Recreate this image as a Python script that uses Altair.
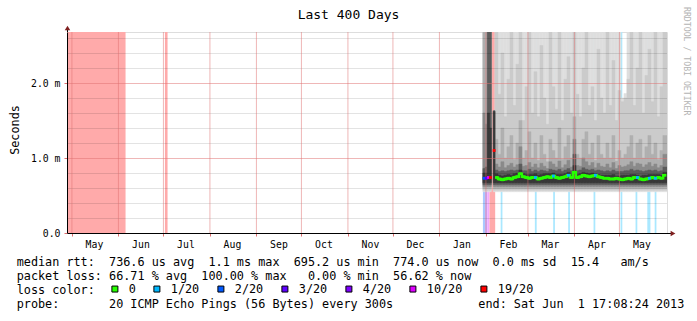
import altair as alt
import pandas as pd

MONO = "DejaVu Sans Mono"

# ---------------- frame ----------------
START_ISO = "2012-04-27T17:08:24Z"
END_ISO = "2013-06-01T17:08:24Z"
START = alt.DateTime(year=2012, month=4, date=27, hours=17, minutes=8, seconds=24, utc=True)
END = alt.DateTime(year=2013, month=6, date=1, hours=17, minutes=8, seconds=24, utc=True)
YMAX = 2.68  # ms
MONTH_STARTS = ["2012-05-01", "2012-06-01", "2012-07-01", "2012-08-01", "2012-09-01",
                "2012-10-01", "2012-11-01", "2012-12-01", "2013-01-01", "2013-02-01",
                "2013-03-01", "2013-04-01", "2013-05-01"]
Y_LABELS = [0, 1, 2]
Y_MAJOR = [1.0, 2.0]
Y_MINOR = [0.2, 0.4, 0.6, 0.8, 1.2, 1.4, 1.6, 1.8, 2.2, 2.4, 2.6]

# ---------------- loss colours ----------------
LOSS_CATS = ["0", "1/20", "2/20", "3/20", "4/20", "10/20", "19/20"]
LOSS_COLORS = ["#26ff00", "#00b8ff", "#0059ff", "#5e00ff", "#7e00ff", "#dd00ff", "#ff0000"]
LOSS_TINTS = ["#b2ffaa", "#aae8ff", "#aac8ff", "#c9aaff", "#d4aaff", "#f4aaff", "#ffaaaa"]

# ---------------- loss background bars ----------------
LOSS_START = ["2012-04-27T17:08:24Z", "2012-07-02T00:00:00Z", "2013-01-30T00:00:00Z",
              "2013-01-31T12:00:00Z", "2013-02-01T22:00:00Z", "2013-02-03T10:00:00Z",
              "2013-02-10T20:00:00Z", "2013-03-05T15:00:00Z", "2013-03-17T20:00:00Z",
              "2013-03-27T20:00:00Z", "2013-04-13T18:00:00Z", "2013-05-01T18:00:00Z",
              "2013-05-11T18:00:00Z", "2013-05-19T14:00:00Z", "2013-05-24T12:00:00Z"]
LOSS_END = ["2012-06-05T18:00:00Z", "2012-07-03T18:00:00Z", "2013-01-31T12:00:00Z",
            "2013-02-01T22:00:00Z", "2013-02-03T10:00:00Z", "2013-02-07T04:00:00Z",
            "2013-02-12T00:00:00Z", "2013-03-06T20:00:00Z", "2013-03-19T00:00:00Z",
            "2013-03-29T00:00:00Z", "2013-04-14T22:00:00Z", "2013-05-02T22:00:00Z",
            "2013-05-12T22:00:00Z", "2013-05-21T16:00:00Z", "2013-05-25T16:00:00Z"]
LOSS_CAT = ["19/20", "19/20", "2/20", "3/20", "10/20", "19/20",
            "1/20", "1/20", "1/20", "1/20", "1/20", "1/20", "1/20", "1/20", "1/20"]

# ---------------- smoke columns ----------------
SPECIAL_STARTS = ["2013-01-30T00:00:00Z", "2013-01-31T12:00:00Z", "2013-02-01T22:00:00Z",
                  "2013-02-03T10:00:00Z", "2013-02-04T14:00:00Z", "2013-02-05T22:00:00Z"]
REG_STARTS = [d.strftime("%Y-%m-%dT%H:%M:%SZ")
              for d in pd.date_range("2013-02-07", periods=57, freq="2D")]

S_T0 = [2.68, 2.68, 2.68, 2.68, None, 1.63]
S_T1 = [2.68, 2.68, 2.68, 2.68, None, 1.63]
S_T2 = [2.68, 2.68, 2.68, 2.68, None, 1.63]
S_T3 = [1.60, 1.45, 2.68, 2.68, None, 1.63]
S_T4 = [0.86, 0.88, 2.68, 2.68, None, 1.63]
S_T5 = [0.80, 0.80, 1.60, 1.40, None, 1.62]
S_MED = [0.73, 0.73, 0.74, 0.74, None, 1.10]
S_LOSS = ["2/20", "3/20", "10/20", "19/20", None, "19/20"]

T0 = [2.68] * 42 + [1.80, 1.86] + [2.68] * 13
T1 = [2.68, 1.85, 2.40, 1.55, 2.05, 2.68, 1.70, 2.25, 2.68, 1.50,
      1.95, 2.68, 1.60, 2.15, 1.55, 2.50, 1.80, 1.45, 2.68, 1.95,
      1.65, 2.68, 1.50, 2.05, 2.35, 1.60, 2.68, 1.85, 1.55, 2.20,
      2.68, 1.70, 1.95, 1.50, 2.45, 1.80, 1.60, 2.68, 1.70, 2.30,
      1.50, 1.90, 1.75, 1.80, 2.05, 2.68, 1.70, 2.20, 2.68, 1.60,
      2.10, 2.45, 1.75, 2.68, 1.55, 1.95, 2.68]
T2 = [1.25, 1.05, 1.40, 1.00, 1.15, 1.30, 0.98, 1.20, 1.50, 1.00,
      1.10, 1.35, 1.00, 1.20, 0.97, 1.30, 1.05, 0.95, 1.25, 1.10,
      1.00, 1.40, 0.98, 1.15, 1.30, 1.00, 1.55, 1.05, 1.00, 1.25,
      1.35, 1.05, 1.20, 0.97, 1.30, 1.05, 1.00, 1.20, 1.00, 1.30,
      0.96, 1.10, 1.00, 1.05, 1.15, 1.30, 1.00, 1.20, 1.25, 1.00,
      1.15, 1.30, 1.05, 1.20, 0.98, 1.10, 1.30]
T3 = [0.92, 0.88, 0.95, 0.87, 0.90, 0.93, 0.88, 0.91, 1.15, 0.89,
      0.90, 0.94, 0.88, 0.92, 0.87, 0.93, 0.89, 0.86, 0.95, 0.92,
      0.88, 0.96, 0.87, 0.91, 0.97, 0.88, 1.25, 0.90, 0.89, 1.00,
      0.95, 0.90, 0.94, 0.87, 0.93, 0.89, 0.88, 0.92, 0.87, 0.94,
      0.86, 0.90, 0.88, 0.89, 0.91, 0.95, 0.89, 0.93, 0.92, 0.88,
      0.91, 0.94, 0.89, 0.92, 0.87, 0.90, 1.05]
T4 = [0.84, 0.82, 0.83, 0.82, 0.83, 0.84, 0.83, 0.84, 0.92, 0.83,
      0.83, 0.85, 0.82, 0.84, 0.82, 0.84, 0.83, 0.82, 0.85, 0.84,
      0.83, 0.85, 0.82, 0.84, 0.86, 0.83, 1.05, 0.83, 0.84, 0.87,
      0.85, 0.84, 0.85, 0.83, 0.84, 0.83, 0.82, 0.83, 0.82, 0.84,
      0.82, 0.82, 0.82, 0.83, 0.83, 0.85, 0.83, 0.84, 0.83, 0.82,
      0.83, 0.84, 0.83, 0.84, 0.82, 0.83, 0.88]
T5 = [0.79, 0.77, 0.76, 0.77, 0.78, 0.77, 0.79, 0.80, 0.84, 0.79,
      0.78, 0.78, 0.78, 0.79, 0.77, 0.78, 0.79, 0.79, 0.79, 0.80,
      0.78, 0.78, 0.78, 0.79, 0.81, 0.78, 0.90, 0.78, 0.79, 0.81,
      0.80, 0.79, 0.80, 0.79, 0.78, 0.77, 0.77, 0.77, 0.77, 0.78,
      0.76, 0.76, 0.77, 0.77, 0.77, 0.78, 0.78, 0.77, 0.76, 0.77,
      0.77, 0.78, 0.78, 0.78, 0.78, 0.77, 0.81]
MED = [0.74, 0.72, 0.71, 0.72, 0.73, 0.72, 0.74, 0.75, 0.79, 0.75,
       0.74, 0.73, 0.74, 0.74, 0.72, 0.73, 0.74, 0.75, 0.74, 0.76,
       0.74, 0.73, 0.74, 0.75, 0.77, 0.74, 0.81, 0.74, 0.75, 0.77,
       0.76, 0.75, 0.76, 0.77, 0.75, 0.74, 0.73, 0.73, 0.72, 0.72,
       0.73, 0.72, 0.71, 0.72, 0.73, 0.72, 0.74, 0.74, 0.72, 0.71,
       0.72, 0.73, 0.74, 0.73, 0.74, 0.73, 0.77]
LOSS = ["0"] * 57
for j in [13, 19, 24, 33, 47, 51, 53]:
    LOSS[j] = "1/20"

BAND_LOW = [0.55, 0.57, 0.595, 0.62, 0.645, 0.67]
BAND_GRAY = ["#dedede", "#cbcbcb", "#b0b0b0", "#8a8a8a", "#5c5c5c", "#383838"]

for arr in (T0, T1, T2, T3, T4, T5, MED, LOSS):
    assert len(arr) == 57

starts = SPECIAL_STARTS + REG_STARTS
ends = starts[1:] + [END_ISO]
tops = [S_T0 + T0, S_T1 + T1, S_T2 + T2, S_T3 + T3, S_T4 + T4, S_T5 + T5]
meds = S_MED + MED
losses = S_LOSS + LOSS

smoke_rows = []
for lvl in range(6):
    for k in range(len(starts)):
        hi = tops[lvl][k]
        if hi is None:
            continue
        smoke_rows.append({"start": starts[k], "end": ends[k], "lo": BAND_LOW[lvl],
                           "hi": hi, "level": lvl})
smoke_df = pd.DataFrame(smoke_rows)

med_rows = []
for k in range(len(starts)):
    if meds[k] is None:
        continue
    s = pd.Timestamp(starts[k])
    e = pd.Timestamp(ends[k])
    mid = (s + (e - s) / 2).strftime("%Y-%m-%dT%H:%M:%SZ")
    med_rows.append({"mid": mid, "med": meds[k], "loss": losses[k], "reg": k >= 6})
med_df = pd.DataFrame(med_rows)

loss_df = pd.DataFrame({"start": LOSS_START, "end": LOSS_END, "cat": LOSS_CAT})

# ---------------- scales & axes ----------------
XS = alt.Scale(type="utc", domain=[START, END])
YS = alt.Scale(domain=[0, YMAX], nice=False, zero=True)
GRID_RED = "#e07070"

XAX = alt.Axis(values=[alt.DateTime(year=int(m[:4]), month=int(m[5:7]), date=1, utc=True)
                       for m in MONTH_STARTS],
               format="%b", labelOffset=22, labelFont=MONO, labelFontSize=9.8,
               labelColor="black", tickSize=3, tickColor=GRID_RED, labelPadding=3,
               domainColor="black", grid=False, zindex=1, labelOverlap=False,
               labelFlush=False, title=None)
YAX = alt.Axis(values=Y_LABELS,
               labelExpr="datum.value == 0 ? '0.0' : format(datum.value, '.1f') + ' m'",
               labelFont=MONO, labelFontSize=9.8, labelColor="black", tickSize=3,
               tickColor=GRID_RED, labelPadding=4, domainColor="black", grid=False,
               zindex=1, title=None)


def X(f):
    return alt.X(f, scale=XS, axis=XAX)


def Y(f):
    return alt.Y(f, scale=YS, axis=YAX)


loss_bars = alt.Chart(loss_df).mark_rect().encode(
    x=X("start:T"), x2="end:T",
    y=alt.datum(0), y2=alt.datum(YMAX),
    color=alt.Color("cat:N", scale=alt.Scale(domain=LOSS_CATS, range=LOSS_TINTS), legend=None),
)

smoke = alt.Chart(smoke_df).mark_rect(strokeWidth=0.5, clip=True).encode(
    x=X("start:T"), x2="end:T",
    y=Y("lo:Q"), y2="hi:Q",
    fill=alt.Fill("level:O", scale=alt.Scale(domain=list(range(6)), range=BAND_GRAY), legend=None),
    stroke=alt.Stroke("level:O", scale=alt.Scale(domain=list(range(6)), range=BAND_GRAY), legend=None),
    order=alt.Order("level:O"),
)

minor_grid = alt.Chart(pd.DataFrame({"v": Y_MINOR})).mark_rule(
    color="#000000", opacity=0.11, yOffset=0.5).encode(y=Y("v:Q"))
major_grid = alt.Chart(pd.DataFrame({"v": Y_MAJOR})).mark_rule(
    color=GRID_RED, opacity=0.5, yOffset=0.5).encode(y=Y("v:Q"))
vert_grid = alt.Chart(pd.DataFrame({"d": [m + "T00:00:00Z" for m in MONTH_STARTS]})).mark_rule(
    color=GRID_RED, opacity=0.5).encode(x=X("d:T"))

med_line = alt.Chart(med_df[med_df["reg"]]).mark_line(
    interpolate="step", color="#26ff00", strokeWidth=2.4).encode(x=X("mid:T"), y=Y("med:Q"))

med_pts = alt.Chart(med_df).mark_square(size=8, opacity=1).encode(
    x=X("mid:T"), y=Y("med:Q"),
    fill=alt.Fill("loss:N", scale=alt.Scale(domain=LOSS_CATS, range=LOSS_COLORS),
                  legend=alt.Legend(orient="none", legendX=42, legendY=251,
                                    direction="horizontal", columns=7, title=None,
                                    symbolType="square", symbolSize=36,
                                    symbolStrokeColor="black", symbolStrokeWidth=1,
                                    symbolOpacity=1, labelFont=MONO, labelFontSize=11.8,
                                    labelColor="black", labelOffset=8, columnPadding=15,
                                    padding=0, rowPadding=0)),
)

one = pd.DataFrame({"k": [0]})
y_ext = alt.Chart(one).mark_rule(color="black").encode(
    x=alt.value(0.5), y=alt.value(-5), y2=alt.value(0))
x_ext = alt.Chart(one).mark_rule(color="black").encode(
    x=alt.value(600), x2=alt.value(605), y=alt.value(201.5))
y_arrow = alt.Chart(one).mark_point(shape="triangle-up", filled=True, size=30,
                                    color="#7f1f1f", opacity=1).encode(
    x=alt.value(0.5), y=alt.value(-4))
x_arrow = alt.Chart(one).mark_point(shape="triangle-right", filled=True, size=30,
                                    color="#7f1f1f", opacity=1).encode(
    x=alt.value(606), y=alt.value(201.5))


def nb(s):
    return s.replace(" ", "\u00a0")


def text_layer(s, x, y, size, color="black", align="left", angle=0):
    kw = dict(font=MONO, fontSize=size, align=align, baseline="middle", color=color)
    if angle:
        kw["angle"] = angle
    return alt.Chart(pd.DataFrame({"t": [nb(s)]})).mark_text(**kw).encode(
        text="t:N", x=alt.value(x), y=alt.value(y))


TITLE = "Last 400 Days"
Y_TITLE = "Seconds"
WATERMARK = "RRDTOOL / TOBI OETIKER"
LEGEND_LINES = [
    "median rtt:  736.6 us avg  1.1 ms max  695.2 us min  774.0 us now  0.0 ms sd  15.4   am/s",
    "packet loss: 66.71 % avg  100.00 % max   0.00 % min  56.62 % now",
    "loss color:",
    "probe:       20 ICMP Echo Pings (56 Bytes) every 300s            end: Sat Jun  1 17:08:24 2013",
]

texts = [
    text_layer(TITLE, 281.5, -17, 13, align="center"),
    text_layer(Y_TITLE, -52, 98, 11.8, align="center", angle=270),
    text_layer(WATERMARK, 618.5, -25, 8.2, color="#b4b4b4", angle=90),
]
for i, line in enumerate(LEGEND_LINES):
    texts.append(text_layer(line, -50.3, 229.6 + 14 * i, 11.8))

chart = alt.layer(
    loss_bars, smoke, minor_grid, major_grid, vert_grid, med_line, med_pts,
    y_ext, x_ext, y_arrow, x_arrow, *texts
).resolve_scale(
    color="independent", fill="independent", stroke="independent"
).properties(
    width=600, height=201,
    padding={"left": 67, "top": 32, "right": 30, "bottom": 88},
    autosize=alt.AutoSizeParams(type="none"),
).configure_view(stroke=None).configure(background="white")

chart.save("out.html", embed_options={"renderer": "svg", "actions": False})
